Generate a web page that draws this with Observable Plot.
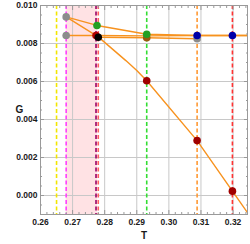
<!DOCTYPE html>
<html><head><meta charset="utf-8">
<script src="https://cdn.jsdelivr.net/npm/d3@7"></script>
<script src="https://cdn.jsdelivr.net/npm/@observablehq/plot@0.6"></script>
<style>body{margin:0;background:#fff}</style>
</head><body><div id="c"></div>
<script>
const xDomain = [0.26, 0.3245];
const yDomain = [-0.001, 0.010];
const xTicks = [0.26, 0.27, 0.28, 0.29, 0.30, 0.31, 0.32];
const xTickLabels = ["0.26", "0.27", "0.28", "0.29", "0.30", "0.31", "0.32"];
const xMinor = [0.262, 0.264, 0.266, 0.268, 0.272, 0.274, 0.276, 0.278, 0.282, 0.284, 0.286, 0.288, 0.292, 0.294, 0.296, 0.298, 0.302, 0.304, 0.306, 0.308, 0.312, 0.314, 0.316, 0.318, 0.322, 0.324];
const yTicks = [0.000, 0.002, 0.004, 0.006, 0.008, 0.010];
const yTickLabels = ["0.000", "0.002", "0.004", "0.006", "0.008", "0.010"];
const yMinor = [-0.0005, 0.0005, 0.001, 0.0015, 0.0025, 0.003, 0.0035, 0.0045, 0.005, 0.0055, 0.0065, 0.007, 0.0075, 0.0085, 0.009, 0.0095];

const shadeStart = [0.268];
const shadeEnd = [0.2778];

const ruleT = [0.265, 0.268, 0.2773, 0.278, 0.2931, 0.3088, 0.3198];
const ruleColors = ["#f2e600", "#ff40ff", "#990066", "#ff6060", "#33dd33", "#ff9933", "#ff3333"];

// orange branches
const lineA_T = [0.268, 0.2776, 0.2931, 0.3088, 0.3198, 0.3245];
const lineA_G = [0.0094, 0.00895, 0.00849, 0.00842, 0.00842, 0.00842];
const lineB_T = [0.268, 0.2773, 0.2931, 0.3088, 0.3245];
const lineB_G = [0.00842, 0.00842, 0.00840, 0.00842, 0.00842];
const lineC_T = [0.268, 0.278, 0.2866, 0.29, 0.2931, 0.3088, 0.3198, 0.3245];
const lineC_G = [0.0094, 0.00835, 0.0071, 0.00658, 0.00604, 0.00289, 0.00023, -0.0009];
const lineD_T = [0.278, 0.2931, 0.3088];
const lineD_G = [0.00833, 0.0083, 0.00825];

const pointT = [0.268, 0.268, 0.2776, 0.2773, 0.278, 0.2931, 0.2931, 0.3088, 0.3088, 0.3198, 0.2931, 0.3088, 0.3198];
const pointG = [0.0094, 0.00842, 0.00895, 0.00842, 0.00833, 0.0083, 0.00849, 0.00825, 0.00842, 0.00842, 0.00604, 0.00289, 0.00023];
const pointColor = ["#8c8c8c", "#8c8c8c", "#22a022", "#b00000", "#000000", "#9a5a10", "#22a022", "#8c8c8c", "#0000a8", "#0000a8", "#a00000", "#a00000", "#a00000"];

const toRows = (T, G) => T.map((t, i) => ({t, g: G[i]}));
const lines = [toRows(lineA_T, lineA_G), toRows(lineB_T, lineB_G), toRows(lineC_T, lineC_G), toRows(lineD_T, lineD_G)];
const points = pointT.map((t, i) => ({t, g: pointG[i], c: pointColor[i]}));
const rules = ruleT.map((t, i) => ({t, c: ruleColors[i]}));
const shade = shadeStart.map((s, i) => ({x1: s, x2: shadeEnd[i]}));
const orange = "#f7921e";
const noLabel = () => "";

const chart = Plot.plot({
  width: 250, height: 244,
  marginLeft: 40, marginRight: 3, marginTop: 5, marginBottom: 30,
  style: {fontFamily: "'Liberation Sans', Arial, sans-serif", background: "#fff"},
  x: {domain: xDomain},
  y: {domain: yDomain},
  marks: [
    Plot.rect(shade, {x1: "x1", x2: "x2", fill: "#ffe2e4"}),
    Plot.gridX(xTicks.slice(1), {stroke: "#c8c8c8", strokeOpacity: 1}),
    Plot.gridY(yTicks, {stroke: "#c8c8c8", strokeOpacity: 1}),
    Plot.ruleX(rules, {x: "t", stroke: "c", strokeWidth: 1.6, strokeDasharray: "4,2.5"}),
    ...lines.map(l => Plot.line(l, {x: "t", y: "g", stroke: orange, strokeWidth: 1.4, clip: true})),
    Plot.dot(points, {x: "t", y: "g", fill: "c", r: 3.8}),
    Plot.frame({stroke: "#9a9a9a"}),
    Plot.axisX(xTicks, {anchor: "bottom", tickSize: -4, tickPadding: 8, tickFormat: (d, i) => xTickLabels[i], fontSize: 8.5, fontWeight: "bold", fill: "#1a1a1a", stroke: "#999", label: null}),
    Plot.axisX(xMinor, {anchor: "bottom", tickSize: -2, tickFormat: noLabel, stroke: "#999", label: null}),
    Plot.axisX(xTicks, {anchor: "top", tickSize: -4, tickFormat: noLabel, stroke: "#999", label: null}),
    Plot.axisX(xMinor, {anchor: "top", tickSize: -2, tickFormat: noLabel, stroke: "#999", label: null}),
    Plot.axisY(yTicks, {anchor: "left", tickSize: -4, tickPadding: 7, tickFormat: (d, i) => yTickLabels[i], fontSize: 8.5, fontWeight: "bold", fill: "#1a1a1a", stroke: "#999", label: null}),
    Plot.axisY(yMinor, {anchor: "left", tickSize: -2, tickFormat: noLabel, stroke: "#999", label: null}),
    Plot.axisY(yTicks, {anchor: "right", tickSize: -4, tickFormat: noLabel, stroke: "#999", label: null}),
    Plot.axisY(yMinor, {anchor: "right", tickSize: -2, tickFormat: noLabel, stroke: "#999", label: null}),
    Plot.text(["G"], {frameAnchor: "left", dx: -25, fontSize: 10, fontWeight: 600, fill: "#1a1a1a"}),
    Plot.text(["T"], {frameAnchor: "bottom", dy: 24, fontSize: 10, fontWeight: 600, fill: "#1a1a1a"})
  ]
});
document.getElementById("c").appendChild(chart);
</script>
</body></html>
